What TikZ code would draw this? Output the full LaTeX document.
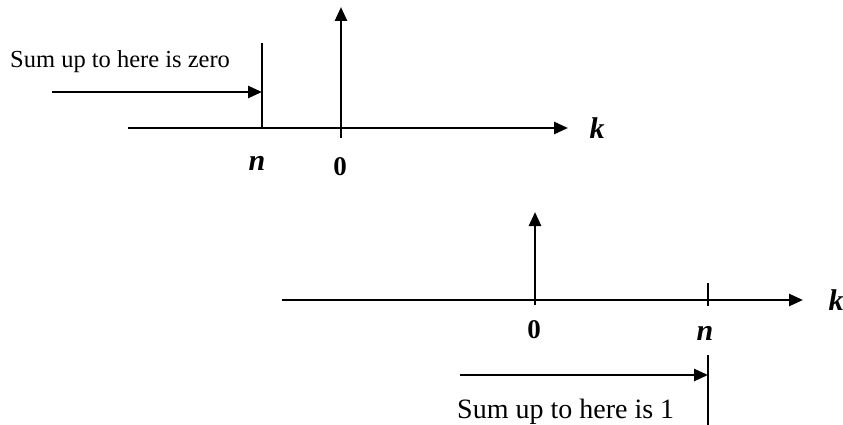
\documentclass[tikz,border=0pt]{standalone}
\usepackage{fontspec}
\setmainfont{Liberation Serif}
\usetikzlibrary{arrows.meta}
\newcommand{\axisLbl}[1]{\fontsize{30}{32}\selectfont\textbf{\textit{#1}}}
\newcommand{\zeroLbl}{\fontsize{27}{29}\selectfont\textbf{0}}

\begin{document}
\begin{tikzpicture}[x=1pt,y=-1pt,
  axis/.style={line width=2.6pt, -{Triangle[length=14pt,width=12pt]}},
  bar/.style={line width=2.2pt},
  lbl/.style={inner sep=0pt},
  sumtext/.style={anchor=base west, inner sep=0pt, font=\fontsize{24.5}{27}\selectfont}]
\useasboundingbox (0,0) rectangle (843,425);
\coordinate (tAxisL) at (128,128);
\coordinate (tAxisR) at (568,128);
\coordinate (tStemB) at (341,138);
\coordinate (tStemT) at (341,7);
\coordinate (tBarT) at (262,43);
\coordinate (tBarB) at (262,128);
\coordinate (tArrL) at (52,92);
\draw[axis] (tAxisL) -- (tAxisR);
\draw[axis] (tStemB) -- (tStemT);
\draw[bar] (tBarT) -- (tBarB);
\draw[axis] (tArrL) -- (tArrL -| tBarB);
\node[sumtext] (tSum) at (10,68) {Sum up to here is zero};
\node[lbl] (tK) at (597,128) {\axisLbl{k}};
\node[lbl] (tN) at (257,163) {\axisLbl{n}};
\node[lbl] (tZero) at (340,167) {\zeroLbl};
\coordinate (bAxisL) at (282,300);
\coordinate (bAxisR) at (803,300);
\coordinate (bStemB) at (535,305);
\coordinate (bStemT) at (535,212);
\coordinate (bTickT) at (708,283);
\coordinate (bTickB) at (708,306);
\coordinate (bBarT) at (708,355);
\coordinate (bBarB) at (708,425);
\coordinate (bArrL) at (460,375);
\draw[axis] (bAxisL) -- (bAxisR);
\draw[axis] (bStemB) -- (bStemT);
\draw[bar] (bTickT) -- (bTickB);
\draw[bar] (bBarT) -- (bBarB);
\draw[axis] (bArrL) -- (bArrL -| bBarB);
\node[sumtext, font=\fontsize{28}{30}\selectfont] (bSum) at (457,418) {Sum up to here is 1};
\node[lbl] (bK) at (836,300) {\axisLbl{k}};
\node[lbl] (bN) at (705,333) {\axisLbl{n}};
\node[lbl] (bZero) at (534,330) {\zeroLbl};
\end{tikzpicture}
\end{document}
